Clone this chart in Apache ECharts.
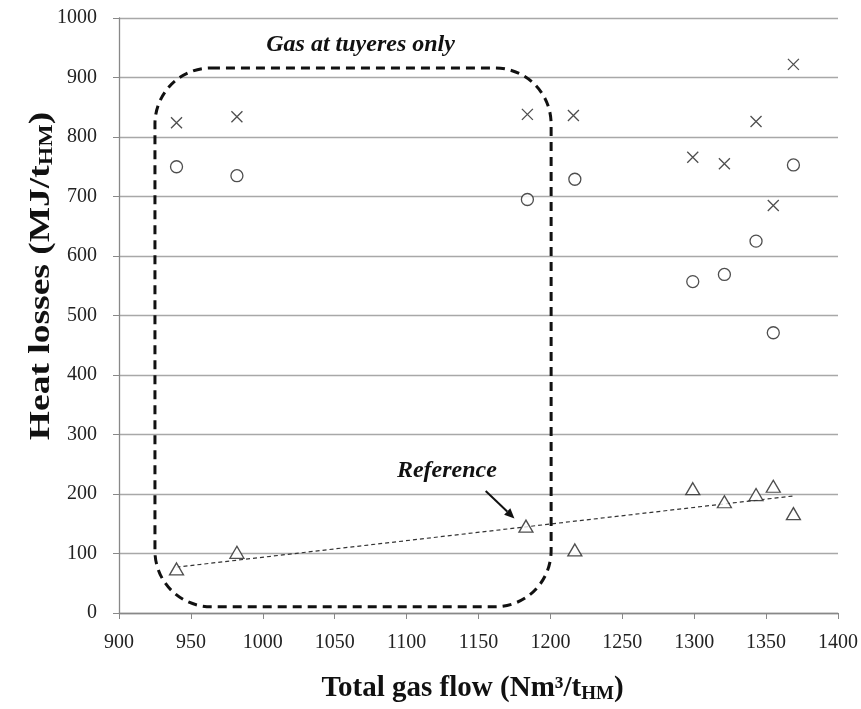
<!DOCTYPE html>
<html>
<head>
<meta charset="utf-8">
<script src="https://cdn.jsdelivr.net/npm/echarts@6/dist/echarts.min.js"></script>
<style>
html,body{margin:0;padding:0;background:#fff;}
#chart{width:861px;height:709px;}
</style>
</head>
<body>
<div id="chart"></div>
<script>
// Data
var crossPoints = [[940,824],[982,834],[1184,838],[1216,836],[1299,766],[1321,755],[1343,826],[1355,685],[1369,922]];
var circlePoints = [[940,750],[982,735],[1184,695],[1217,729],[1299,557],[1321,569],[1343,625],[1355,471],[1369,753]];
var trianglePoints = [[940,74],[982,102],[1183,146],[1217,106],[1299,209],[1321,187],[1343,199],[1355,213],[1369,167]];
var trendLine = [[940,77],[1370,197]];
var xTicks = {min:900, max:1400, interval:50};
var yTicks = {min:0, max:1000, interval:100};
// Annotations in data units
var boxCorners = {x0:925, x1:1200.5, y0:10.5, y1:916};
var boxLabel = {text:'Gas at tuyeres only', x:1068, y:955};
var refLabel = {text:'Reference', x:1128, y:239};
var refArrow = {from:[1155,205], to:[1175,159]};
var yTitle = {main:'Heat losses (MJ/t', sub:'HM', end:')'};

var FONT = '"Liberation Serif","Times New Roman",serif';
var chart = echarts.init(document.getElementById('chart'));

function plain(v){ return String(v); }

var option = {
  animation:false,
  backgroundColor:'#fff',
  grid:{left:119, right:22, top:18, bottom:95, containLabel:false},
  xAxis:{
    type:'value', min:xTicks.min, max:xTicks.max, interval:xTicks.interval,
    axisLine:{show:true, onZero:false, lineStyle:{color:'#888', width:1.3}},
    axisTick:{show:true, inside:false, length:6, lineStyle:{color:'#888'}},
    splitLine:{show:false},
    axisLabel:{color:'#222', fontFamily:FONT, fontSize:20, margin:20, formatter:plain},
    name:'{a|Total gas flow (Nm³/t}{s|HM}{a|)}',
    nameLocation:'middle', nameGap:60,
    nameTextStyle:{padding:[0,12,0,0], rich:{
      a:{fontFamily:FONT, fontSize:29, fontWeight:'bold', color:'#111'},
      s:{fontFamily:FONT, fontSize:19, fontWeight:'bold', color:'#111', padding:[12,0,0,0]}
    }}
  },
  yAxis:{
    type:'value', min:yTicks.min, max:yTicks.max, interval:yTicks.interval,
    axisLine:{show:true, lineStyle:{color:'#888', width:1.3}},
    axisTick:{show:true, inside:false, length:6, lineStyle:{color:'#888'}},
    splitLine:{show:true, lineStyle:{color:'#a8a8a8', width:1.3}},
    axisLabel:{color:'#222', fontFamily:FONT, fontSize:20, margin:22, formatter:plain}
  },
  series:[
    {name:'Reference trend', type:'line', data:trendLine, symbol:'none', silent:true,
     lineStyle:{color:'#333', width:1.2, type:[4,3]}, z:1},
    {name:'Crosses', type:'scatter', data:crossPoints,
     symbol:'path://M0,0L10,10M10,0L0,10', symbolSize:11,
     itemStyle:{color:'none', borderColor:'#222', borderWidth:1.3}, z:3},
    {name:'Circles', type:'scatter', data:circlePoints, symbol:'circle', symbolSize:12,
     itemStyle:{color:'#fff', borderColor:'#222', borderWidth:1.3}, z:3},
    {name:'Triangles', type:'scatter', data:trianglePoints, symbol:'triangle', symbolSize:[14,12],
     itemStyle:{color:'#fff', borderColor:'#222', borderWidth:1.3}, z:3}
  ]
};
chart.setOption(option);

function px(p){ return chart.convertToPixel({gridIndex:0}, p); }
var tl = px([boxCorners.x0, boxCorners.y1]);
var br = px([boxCorners.x1, boxCorners.y0]);
var bpos = px([boxLabel.x, boxLabel.y]);
var rpos = px([refLabel.x, refLabel.y]);
var a0 = px(refArrow.from), a1 = px(refArrow.to);
var ang = Math.atan2(a1[1]-a0[1], a1[0]-a0[0]);
var hl = 10, hw = 4.5;
var tip = a1;
var base = [tip[0]-hl*Math.cos(ang), tip[1]-hl*Math.sin(ang)];
var head = [
  tip,
  [base[0]+hw*Math.sin(ang), base[1]-hw*Math.cos(ang)],
  [base[0]-hw*Math.sin(ang), base[1]+hw*Math.cos(ang)]
];

chart.setOption({graphic:[
  {type:'rect', z:10, shape:{x:tl[0], y:tl[1], width:br[0]-tl[0], height:br[1]-tl[1], r:56},
   style:{fill:'none', stroke:'#111', lineWidth:3, lineDash:[9,6]}},
  {type:'text', z:11, x:bpos[0], y:bpos[1],
   style:{text:boxLabel.text, font:'italic bold 24px ' + FONT, fill:'#111', align:'center', verticalAlign:'middle'}},
  {type:'text', z:11, x:rpos[0], y:rpos[1],
   style:{text:refLabel.text, font:'italic bold 24px ' + FONT, fill:'#111', align:'center', verticalAlign:'middle'}},
  {type:'line', z:11, shape:{x1:a0[0], y1:a0[1], x2:base[0], y2:base[1]}, style:{stroke:'#111', lineWidth:2}},
  {type:'polygon', z:11, shape:{points:head}, style:{fill:'#111'}},
  // y-axis title (vertically stretched like the reference)
  {type:'text', z:11, x:41, y:276, rotation:Math.PI/2, scaleX:1.25,
   style:{text:'{a|' + yTitle.main + '}{s|' + yTitle.sub + '}{a|' + yTitle.end + '}',
          align:'center', verticalAlign:'middle',
          rich:{
            a:{fontFamily:FONT, fontSize:30, fontWeight:'bold', fill:'#111', color:'#111'},
            s:{fontFamily:FONT, fontSize:19, fontWeight:'bold', fill:'#111', color:'#111', padding:[12,0,0,0]}
          }}}
]});
</script>
</body>
</html>
